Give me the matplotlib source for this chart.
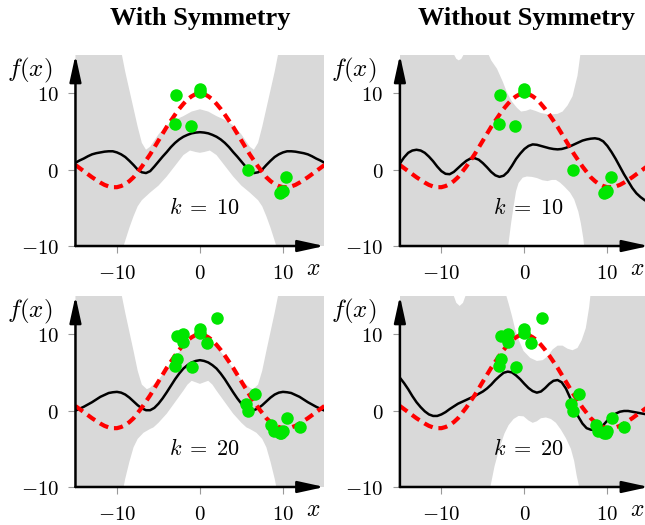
import numpy as np
import matplotlib
matplotlib.use('Agg')
import matplotlib.pyplot as plt

plt.rcParams['mathtext.fontset'] = 'cm'

# common grid for the lines, x = -15 ... 15 in steps of 0.5
grid_x = np.arange(-15, 15.25, 0.5)

# true function (red dashed)
true_y = [0.6, 0.2, -0.2, -0.6, -1.0, -1.35, -1.7, -2.0, -2.2, -2.3, -2.3, -2.15, -1.9, -1.5, -1.0,
          -0.3, 0.4, 1.2, 2.0, 2.9, 3.8, 4.7, 5.6, 6.4, 7.2, 7.95, 8.6, 9.2, 9.6, 9.9,
          10.0,
          9.9, 9.6, 9.2, 8.6, 7.95, 7.2, 6.4, 5.6, 4.7, 3.8, 2.9, 2.0, 1.2, 0.4,
          -0.3, -1.0, -1.5, -1.9, -2.15, -2.3, -2.3, -2.2, -2.0, -1.7, -1.35, -1.0, -0.6, -0.2, 0.2, 0.6]

# posterior means (black)
mean_sym10 = [0.9, 1.2, 1.45, 1.75, 2.0, 2.15, 2.25, 2.35, 2.4, 2.4, 2.25, 2.0, 1.65, 1.15, 0.6,
              0.0, -0.35, -0.45, -0.2, 0.4, 1.05, 1.7, 2.3, 2.95, 3.5, 3.95, 4.3, 4.55, 4.75, 4.85,
              4.9,
              4.85, 4.75, 4.55, 4.3, 3.95, 3.5, 2.95, 2.3, 1.7, 1.05, 0.4, -0.2, -0.45, -0.35,
              0.0, 0.6, 1.15, 1.65, 2.0, 2.25, 2.4, 2.4, 2.35, 2.25, 2.15, 2.0, 1.75, 1.45, 1.2, 0.9]
mean_nosym10 = [0.8, 1.6, 2.2, 2.5, 2.6, 2.5, 2.2, 1.7, 1.1, 0.4, -0.2, -0.55, -0.6, -0.3, 0.2,
                0.7, 1.15, 1.45, 1.5, 1.3, 0.85, 0.3, -0.3, -0.75, -0.95, -0.8, -0.3, 0.5, 1.4, 2.1,
                2.7,
                3.1, 3.3, 3.25, 3.1, 2.95, 2.8, 2.7, 2.65, 2.7, 2.85, 3.05, 3.3, 3.55, 3.8,
                3.95, 4.05, 4.1, 4.0, 3.7, 3.1, 2.3, 1.4, 0.4, -0.6, -1.5, -2.4, -3.1, -3.6, -4.0, -4.3]
mean_sym20 = [0.0, 0.25, 0.5, 0.8, 1.1, 1.45, 1.8, 2.05, 2.3, 2.4, 2.45, 2.35, 2.1, 1.7, 1.2,
              0.7, 0.3, 0.05, 0.05, 0.35, 0.9, 1.6, 2.4, 3.25, 4.1, 4.85, 5.5, 5.95, 6.3, 6.5,
              6.6,
              6.5, 6.3, 5.95, 5.5, 4.85, 4.1, 3.25, 2.4, 1.6, 0.9, 0.35, 0.05, 0.05, 0.3,
              0.7, 1.2, 1.7, 2.1, 2.35, 2.45, 2.4, 2.3, 2.05, 1.8, 1.45, 1.1, 0.8, 0.5, 0.25, 0.0]
mean_nosym20 = [4.3, 3.6, 2.8, 1.9, 1.1, 0.45, -0.1, -0.5, -0.7, -0.7, -0.5, -0.2, 0.2, 0.55, 0.9,
                1.15, 1.4, 1.65, 1.9, 2.2, 2.5, 2.9, 3.4, 4.0, 4.5, 4.95, 5.1, 5.0, 4.6, 4.1,
                3.5,
                2.95, 2.55, 2.35, 2.5, 2.95, 3.5, 3.9, 4.0, 3.7, 2.9, 1.7, 0.4, -0.8, -1.7,
                -2.3, -2.5, -2.55, -2.4, -1.9, -1.3, -0.8, -0.4, -0.15, -0.05, -0.05, -0.15, -0.25, -0.35, -0.45, -0.5]

# band edges (grey), each with its own x knots
up_sym10_x = [-15, -9.9, -9.4, -9.0, -8.5, -8.0, -7.5, -7.0, -6.5, -6.0, -5.0, -4.0, -3.0, -2.0, -1.0, 0,
              1, 2, 3, 4, 5, 6, 6.5, 7, 7.5, 8, 8.5, 9, 9.4, 9.9, 15]
up_sym10_y = [18, 18, 15, 12.8, 10.4, 8.0, 5.6, 3.5, 2.6, 3.0, 4.6, 5.8, 6.5, 7.0, 7.6, 7.9,
              7.6, 7.0, 6.5, 5.8, 4.6, 3.0, 2.6, 3.5, 5.6, 8.0, 10.4, 12.8, 15, 18, 18]
lo_sym10_x = [-15, -9.6, -9.2, -9.0, -8.5, -8.0, -7.5, -7.0, -6.0, -5.0, -4.0, -3.0, -2.0, -1.2, -0.5, 0,
              0.5, 1.2, 2, 3, 4, 5, 6, 7, 7.5, 8, 8.5, 9.0, 9.2, 9.6, 15]
lo_sym10_y = [-12, -12, -10, -9.3, -7.6, -6.1, -4.8, -4.0, -3.0, -2.1, -0.9, 0.5, 1.9, 2.5, 2.3, 2.2,
              2.3, 2.5, 1.9, 0.5, -0.9, -2.1, -3.0, -4.0, -4.8, -6.1, -7.6, -9.3, -10, -12, -12]

up_nosym10_x = [-15, -8.8, -8.5, -8.2, -7.9, -7.6, -7.3, -7.0, -4.8, -4.5, -4.0, -3.3, -2.6, -2.1, -1.5,
                -0.9, -0.4, 0.2, 0.7, 1.3, 2.0, 3.0, 4.0, 4.6, 5.2, 5.8, 6.4, 6.8, 7.1, 15]
up_nosym10_y = [16, 16, 15.1, 14.5, 14.3, 14.5, 15.1, 16, 16, 15.5, 14.3, 13.2, 11.5, 10.1, 8.9,
                8.1, 7.6, 7.7, 7.9, 7.7, 7.4, 7.2, 7.3, 7.6, 8.4, 9.6, 12.3, 15.5, 18, 18]
lo_nosym10_x = [-15, -2.3, -1.95, -1.6, -1.3, -1.0, -0.7, -0.2, 0.3, 0.9, 1.5, 2.2, 2.8, 3.3, 3.8,
                4.3, 4.8, 5.5, 6.0, 6.5, 6.8, 7.1, 7.4, 15]
lo_nosym10_y = [-12, -12, -10, -7.0, -4.8, -2.8, -1.75, -1.05, -0.9, -0.95, -1.1, -1.4, -1.5, -1.35, -1.35,
                -1.7, -2.2, -3.0, -3.9, -5.5, -7.0, -9.0, -12, -12]

up_sym20_x = [-15, -9.9, -9.5, -9, -8.5, -8, -7.5, -7, -6.4, -6, -5, -4, -3, -2, -1, 0,
              1, 2, 3, 4, 5, 6, 6.4, 7, 7.5, 8, 8.5, 9, 9.5, 9.9, 15]
up_sym20_y = [18, 18, 15.5, 12.8, 10.3, 7.8, 5.2, 3.4, 2.8, 3.0, 4.0, 5.5, 7.0, 8.4, 9.4, 9.7,
              9.4, 8.4, 7.0, 5.5, 4.0, 3.0, 2.8, 3.4, 5.2, 7.8, 10.3, 12.8, 15.5, 18, 18]
lo_sym20_x = [-15, -9.6, -9.2, -9, -8.5, -8, -7.5, -6.8, -6, -5.6, -5, -4, -3, -2, -1.5, -1, -0.5, 0,
              0.5, 1, 1.5, 2, 3, 4, 5, 5.6, 6, 6.8, 7.5, 8, 8.5, 9, 9.2, 9.6, 15]
lo_sym20_y = [-12, -12, -10, -8.9, -6.7, -4.8, -3.7, -2.9, -2.4, -2.2, -1.6, -0.4, 1.1, 2.6, 3.4, 3.9, 3.7, 3.5,
              3.7, 3.9, 3.4, 2.6, 1.1, -0.4, -1.6, -2.2, -2.4, -2.9, -3.7, -4.8, -6.7, -8.9, -10, -12, -12]

up_nosym20_x = [-15, -8.8, -8.5, -8.2, -7.8, -7.4, -7.1, -6.8, -2.7, -2.3, -1.9, -1.5, -1.1, -0.7, -0.1,
                0.7, 1.5, 2.2, 2.8, 3.4, 4.0, 4.6, 5.2, 5.8, 6.4, 6.9, 7.4, 7.8, 8.0, 8.3, 15]
up_nosym20_y = [16, 16, 15.0, 14.1, 13.7, 14.1, 15.0, 16, 18, 15.5, 14.0, 12.4, 10.6, 9.3, 7.8,
                6.9, 6.5, 6.6, 7.1, 8.0, 8.5, 8.5, 8.1, 7.9, 8.2, 9.2, 10.8, 13.5, 15.5, 18, 18]
lo_nosym20_x = [-15, -4.4, -4.1, -3.6, -3.0, -2.4, -1.9, -1.3, -0.7, -0.1, 0.5, 1.0, 1.5, 2.0, 2.6,
                3.2, 3.8, 4.4, 5.0, 5.6, 6.0, 6.3, 6.6, 6.8, 15]
lo_nosym20_y = [-12, -12, -10, -7.3, -4.9, -3.0, -1.9, -1.1, -0.7, -0.75, -1.3, -1.6, -1.4, -1.0, -0.9,
                -1.1, -1.6, -2.5, -3.6, -5.0, -6.6, -8.5, -10, -12, -12]

# observations (green)
obs10_x = [-2.9, -3.0, -1.1, 0.0, 0.0, 5.8, 10.4, 9.6, 10.0, 9.8]
obs10_y = [9.8, 6.0, 5.7, 10.6, 10.2, 0.0, -1.0, -3.0, -2.85, -2.95]
obs20_x = [-2.8, -2.0, -2.0, -2.8, -3.0, -1.0, 0.0, 0.0, 0.8, 2.1,
           6.6, 5.6, 5.8, 8.6, 8.9, 9.6, 10.0, 10.5, 12.0, 9.8]
obs20_y = [9.8, 10.0, 9.0, 6.7, 5.9, 5.7, 10.65, 10.2, 8.8, 12.1,
           2.2, 0.9, 0.0, -1.9, -2.7, -2.9, -2.7, -1.0, -2.1, -2.95]

ticks = [-10, 0, 10]
titles = ['With Symmetry', 'Without Symmetry']


def draw_panel(ax, up_x, up_y, lo_x, lo_y, mean, ox, oy, k):
    ax.fill(np.r_[up_x, lo_x[::-1]], np.r_[up_y, lo_y[::-1]],
            color='#d9d9d9', lw=0, zorder=1)
    ax.plot(grid_x, true_y, color='#ff0000', lw=3.0, dashes=(2.2, 1.4), zorder=3)
    ax.plot(grid_x, mean, color='k', lw=1.8, zorder=2)
    ax.plot(ox, oy, 'o', color='#00e600', ms=9, mec='none', zorder=4)
    ax.text(0.5, -5.0, r'$k\;=\;%d$' % k, fontsize=16, ha='center', va='center')

    ax.set_xlim(-15, 15)
    ax.set_ylim(-10, 15)
    for s in ax.spines.values():
        s.set_visible(False)
    ax.set_xticks(ticks, ['$%d$' % t for t in ticks])
    ax.set_yticks(ticks, ['$%d$' % t for t in ticks])
    ax.tick_params(direction='out', length=5, width=0.8, color='0.6',
                   labelsize=15, pad=7)

    arrow = dict(arrowstyle='-|>,head_length=1.6,head_width=0.35', lw=1.8,
                 color='k', shrinkA=0, shrinkB=0)
    ax.annotate('', xy=(1, 0), xytext=(0, 0), xycoords='axes fraction',
                arrowprops=arrow, annotation_clip=False, zorder=5)
    ax.annotate('', xy=(0, 1), xytext=(0, 0), xycoords='axes fraction',
                arrowprops=arrow, annotation_clip=False, zorder=5)
    ax.annotate('$x$', xy=(13.6, 0), xycoords=('data', 'axes fraction'),
                xytext=(0, -16), textcoords='offset points',
                fontsize=17, ha='center', va='center')
    ax.annotate('$f(x)$', xy=(0, 1), xycoords='axes fraction',
                xytext=(-33, -11), textcoords='offset points',
                fontsize=18, ha='center', va='center')


fig = plt.figure(figsize=(6.45, 5.25), dpi=100)
ax_tl = fig.add_axes([0.117, 0.5314, 0.386, 0.3638])
ax_tr = fig.add_axes([0.620, 0.5314, 0.386, 0.3638])
ax_bl = fig.add_axes([0.117, 0.0724, 0.386, 0.3638])
ax_br = fig.add_axes([0.620, 0.0724, 0.386, 0.3638])

draw_panel(ax_tl, up_sym10_x, up_sym10_y, lo_sym10_x, lo_sym10_y, mean_sym10, obs10_x, obs10_y, 10)
draw_panel(ax_tr, up_nosym10_x, up_nosym10_y, lo_nosym10_x, lo_nosym10_y, mean_nosym10, obs10_x, obs10_y, 10)
draw_panel(ax_bl, up_sym20_x, up_sym20_y, lo_sym20_x, lo_sym20_y, mean_sym20, obs20_x, obs20_y, 20)
draw_panel(ax_br, up_nosym20_x, up_nosym20_y, lo_nosym20_x, lo_nosym20_y, mean_nosym20, obs20_x, obs20_y, 20)

fig.text(200 / 645, 1 - 18 / 525, titles[0], family='Liberation Serif', weight='bold',
         fontsize=19, ha='center', va='center')
fig.text(527 / 645, 1 - 18 / 525, titles[1], family='Liberation Serif', weight='bold',
         fontsize=19, ha='center', va='center')

fig.savefig('out.png', dpi=100)
